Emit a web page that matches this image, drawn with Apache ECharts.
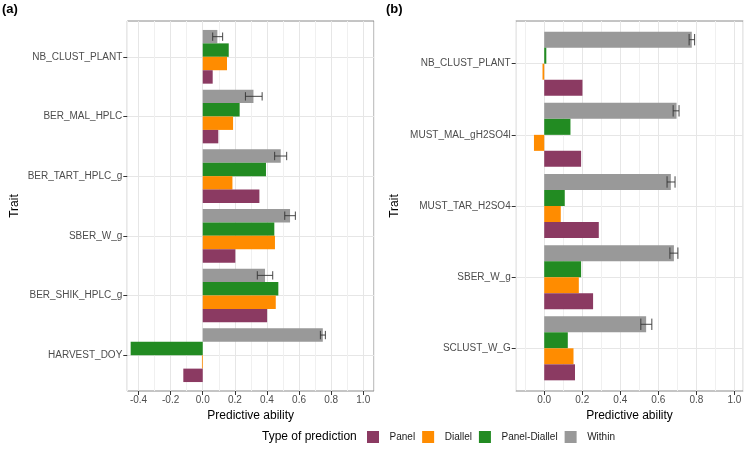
<!DOCTYPE html>
<html><head><meta charset="utf-8">
<script src="https://cdn.jsdelivr.net/npm/echarts@6/dist/echarts.min.js"></script>
<style>html,body{margin:0;padding:0;background:#fff}#c{width:745px;height:453px}</style>
</head><body><div id="c"></div>
<script>
// ---- data ----
const seriesNames = ['Panel', 'Diallel', 'Panel-Diallel', 'Within'];
const categoriesA = ['NB_CLUST_PLANT', 'BER_MAL_HPLC', 'BER_TART_HPLC_g', 'SBER_W_g', 'BER_SHIK_HPLC_g', 'HARVEST_DOY'];
const panelA = [0.062, 0.097, 0.353, 0.203, 0.401, -0.121];
const diallelA = [0.151, 0.189, 0.185, 0.450, 0.455, -0.005];
const panelDiallelA = [0.162, 0.230, 0.394, 0.446, 0.471, -0.449];
const withinA = [0.091, 0.316, 0.486, 0.544, 0.388, 0.748];
const withinLoA = [0.062, 0.266, 0.448, 0.511, 0.340, 0.733];
const withinHiA = [0.124, 0.370, 0.523, 0.577, 0.436, 0.764];

const categoriesB = ['NB_CLUST_PLANT', 'MUST_MAL_gH2SO4l', 'MUST_TAR_H2SO4', 'SBER_W_g', 'SCLUST_W_G'];
const panelB = [0.201, 0.194, 0.287, 0.257, 0.162];
const diallelB = [-0.009, -0.054, 0.087, 0.182, 0.154];
const panelDiallelB = [0.011, 0.138, 0.108, 0.194, 0.124];
const withinB = [0.776, 0.696, 0.666, 0.682, 0.536];
const withinLoB = [0.762, 0.678, 0.646, 0.661, 0.508];
const withinHiB = [0.791, 0.709, 0.688, 0.703, 0.566];

const xRangeA = [-0.47, 1.067];
const xRangeB = [-0.15, 1.047];
const xTicksA = [-0.4, -0.2, 0.0, 0.2, 0.4, 0.6, 0.8, 1.0];
const xTicksB = [0.0, 0.2, 0.4, 0.6, 0.8, 1.0];

// ---- style ----
const FONT = 'Liberation Sans, Arial, sans-serif';
const colors = { 'Panel': '#8B3A62', 'Diallel': '#FF8C00', 'Panel-Diallel': '#228B22', 'Within': '#999999' };
const GRID_MAJOR = '#E6E6E6', GRID_MINOR = '#F0F0F0', FRAME = '#8a8a8a';

const chart = echarts.init(document.getElementById('c'), null, { renderer: 'canvas' });

function frameGrid(left, width) { return { left: left, width: width, top: 21, height: 370, show: true, borderColor: FRAME, borderWidth: 1, backgroundColor: 'transparent', containLabel: false }; }
function barGrid(left, width, nCat) {
  const u = 370 / (nCat + 0.2);
  return { left: left, width: width, top: 21 + 0.1 * u, height: nCat * u, show: false, containLabel: false };
}

function mainX(gridIndex, range, ticks) {
  return {
    type: 'value', gridIndex: gridIndex, min: range[0], max: range[1], splitNumber: 7,
    axisLine: { show: false, onZero: false },
    axisTick: { show: true, length: 4, customValues: ticks, lineStyle: { color: '#333', width: 1 } },
    axisLabel: { color: '#4D4D4D', fontSize: 10, fontFamily: FONT, margin: 4, customValues: ticks,
      formatter: v => (Math.abs(v) < 1e-9 ? 0 : v).toFixed(1) },
    splitLine: { show: true, lineStyle: { color: GRID_MAJOR, width: 1 } },
    name: 'Predictive ability', nameLocation: 'middle', nameGap: 16,
    nameTextStyle: { color: '#000', fontSize: 12, fontFamily: FONT }
  };
}
function minorX(gridIndex, range) {
  return {
    type: 'value', gridIndex: gridIndex, min: range[0] - 0.1, max: range[1] - 0.1, splitNumber: 7,
    axisLine: { show: false, onZero: false }, axisTick: { show: false }, axisLabel: { show: false },
    splitLine: { show: true, lineStyle: { color: GRID_MINOR, width: 1 } }
  };
}
function hiddenX(gridIndex, range) {
  return { type: 'value', gridIndex: gridIndex, min: range[0], max: range[1], show: false, splitLine: { show: false } };
}
function catY(gridIndex, cats, nameGap) {
  return {
    type: 'category', gridIndex: gridIndex, data: cats, inverse: true,
    axisLine: { show: false, onZero: false },
    axisTick: { show: true, alignWithLabel: true, length: 4, lineStyle: { color: '#333' } },
    axisLabel: { color: '#4D4D4D', fontSize: 10, fontFamily: FONT, margin: 5, interval: 0 },
    splitLine: { show: true, alignWithLabel: true, interval: 0, lineStyle: { color: GRID_MAJOR, width: 1 } },
    name: 'Trait', nameLocation: 'middle', nameGap: nameGap, nameRotate: 90,
    nameTextStyle: { color: '#000', fontSize: 12, fontFamily: FONT }
  };
}

function bars(xi, yi, name, values) {
  return { type: 'bar', name: name, xAxisIndex: xi, yAxisIndex: yi, data: values,
    barCategoryGap: '10%', barGap: '0%', itemStyle: { color: colors[name] }, emphasis: { disabled: true }, z: 3 };
}
function errBars(xi, yi, lo, hi, capFrac) {
  return {
    type: 'custom', name: 'err', xAxisIndex: xi, yAxisIndex: yi, z: 5,
    data: lo.map((l, i) => [l, hi[i], i]),
    encode: { x: [0, 1], y: 2 },
    renderItem: function (params, api) {
      const ci = api.value(2);
      const a = api.coord([api.value(0), ci]);
      const b = api.coord([api.value(1), ci]);
      const band = api.size([0, 1])[1];
      const barH = band * 0.9 / 4;
      const y = a[1] - 1.5 * barH;
      const h = band * capFrac / 2;
      const st = { stroke: '#333', lineWidth: 0.9 };
      return { type: 'group', children: [
        { type: 'line', shape: { x1: a[0], y1: y, x2: b[0], y2: y }, style: st },
        { type: 'line', shape: { x1: a[0], y1: y - h, x2: a[0], y2: y + h }, style: st },
        { type: 'line', shape: { x1: b[0], y1: y - h, x2: b[0], y2: y + h }, style: st }
      ] };
    }
  };
}

const LA = 127.3, WA = 374 - 127.3, LB = 515.7, WB = 743.3 - 515.7;

const option = {
  animation: false,
  backgroundColor: '#ffffff',
  textStyle: { fontFamily: FONT },
  grid: [frameGrid(LA, WA), barGrid(LA, WA, categoriesA.length), frameGrid(LB, WB), barGrid(LB, WB, categoriesB.length)],
  xAxis: [mainX(0, xRangeA, xTicksA), minorX(0, xRangeA), hiddenX(1, xRangeA), mainX(2, xRangeB, xTicksB), minorX(2, xRangeB), hiddenX(3, xRangeB)],
  yAxis: [
    { type: 'value', gridIndex: 0, min: 0, max: 1, show: false, splitLine: { show: false } },
    catY(1, categoriesA, 107),
    { type: 'value', gridIndex: 2, min: 0, max: 1, show: false, splitLine: { show: false } },
    catY(3, categoriesB, 115)
  ],
  legend: {
    data: seriesNames, left: 367, top: 431, padding: 0, itemWidth: 12, itemHeight: 12, itemGap: 7, icon: 'rect',
    formatter: n => '  ' + n, selectedMode: false,
    textStyle: { fontSize: 10, color: '#1a1a1a', fontFamily: FONT }
  },
  graphic: [
    { type: 'text', left: 2, top: 3, style: { text: '(a)', font: 'bold 13px ' + FONT, fill: '#000' } },
    { type: 'text', left: 386, top: 3, style: { text: '(b)', font: 'bold 13px ' + FONT, fill: '#000' } },
    { type: 'text', left: 262, top: 431, style: { text: 'Type of prediction', font: '12px ' + FONT, fill: '#000' } }
  ],
  series: [
    bars(2, 1, 'Within', withinA),
    bars(2, 1, 'Panel-Diallel', panelDiallelA),
    bars(2, 1, 'Diallel', diallelA),
    bars(2, 1, 'Panel', panelA),
    errBars(2, 1, withinLoA, withinHiA, 0.14),
    bars(5, 3, 'Within', withinB),
    bars(5, 3, 'Panel-Diallel', panelDiallelB),
    bars(5, 3, 'Diallel', diallelB),
    bars(5, 3, 'Panel', panelB),
    errBars(5, 3, withinLoB, withinHiB, 0.16)
  ]
};
chart.setOption(option);
</script>
</body></html>
